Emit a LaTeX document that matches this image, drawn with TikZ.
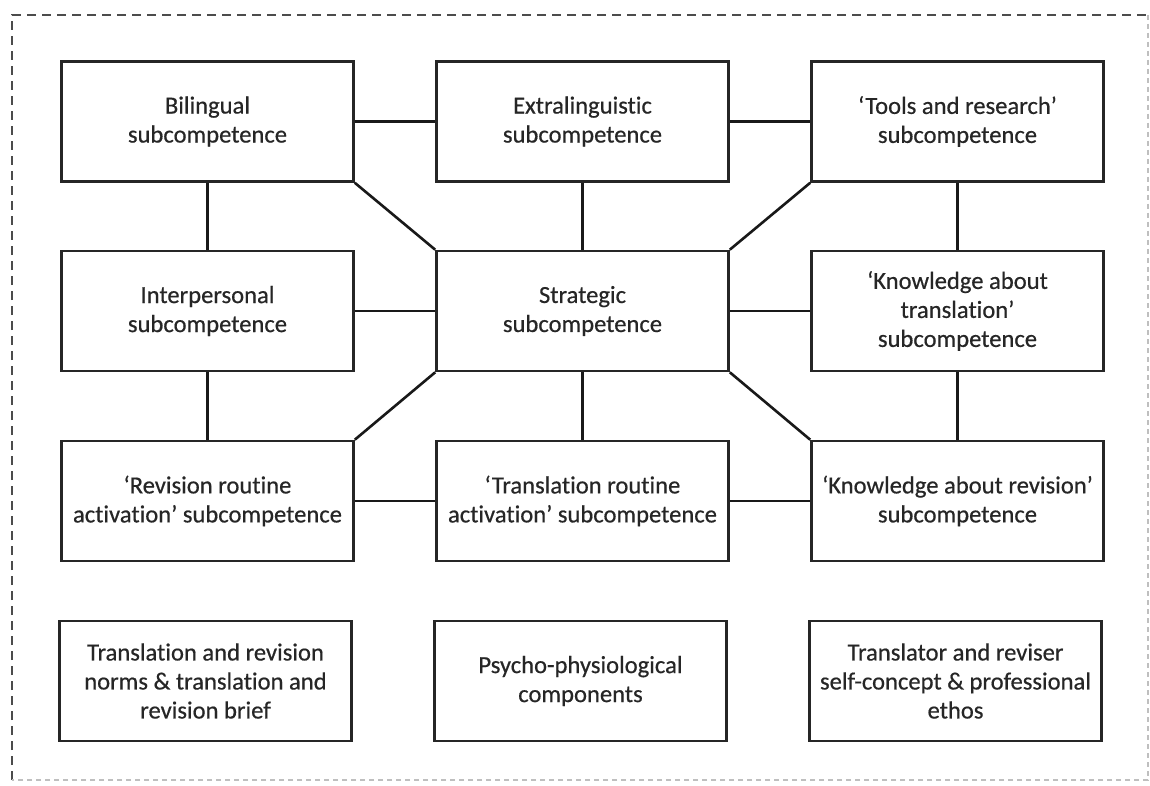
\documentclass[tikz,border=0pt]{standalone}
\usepackage{fontspec}
\setmainfont[Ligatures=CommonOff,FakeBold=0.5]{Carlito}
\begin{document}
\begin{tikzpicture}[x=1pt,y=-1pt,
  box/.style={draw=black!85,line width=2.6pt,minimum width=292pt,minimum height=120pt,align=center,inner sep=0pt,font=\fontsize{24.6}{29}\selectfont,text=black!85},
  link/.style={draw=black!90,line width=2.6pt}]
\useasboundingbox (0,0) rectangle (1150,786);
\fill[white] (0,0) rectangle (1150,786);
% border
\draw[black!70,line width=2.2pt,dash pattern=on 9pt off 6pt] (12,780) -- (12,15) -- (1148,15);
\draw[black!25,line width=1.6pt,dash pattern=on 5pt off 4pt] (1148,15) -- (1148,780) -- (12,780);
% row 1
\node[box] (bil) at (207.5,121.5) {Bilingual\\subcompetence};
\node[box] (ext) at (582.5,121.5) {Extralinguistic\\subcompetence};
\node[box] (tool) at (957.5,121.5) {‘Tools and research’\\subcompetence};
% row 2
\node[box] (int) at (207.5,311) {Interpersonal\\subcompetence};
\node[box] (str) at (582.5,311) {Strategic\\subcompetence};
\node[box] (kt) at (957.5,311) {‘Knowledge about\\translation’\\subcompetence};
% row 3
\node[box] (rr) at (207.5,501) {‘Revision routine\\activation’ subcompetence};
\node[box] (tr) at (582.5,501) {‘Translation routine\\activation’ subcompetence};
\node[box] (kr) at (957.5,501) {‘Knowledge about revision’\\subcompetence};
% row 4
\node[box] (norms) at (205.5,681) {Translation and revision\\norms \& translation and\\revision brief};
\node[box] (psy) at (580.5,681) {Psycho-physiological\\components};
\node[box] (self) at (955.5,681) {Translator and reviser\\self-concept \& professional\\ethos};
% connectors
\draw[link] (bil) -- (ext);
\draw[link] (ext) -- (tool);
\draw[link] (int) -- (str);
\draw[link] (str) -- (kt);
\draw[link] (rr) -- (tr);
\draw[link] (tr) -- (kr);
\draw[link] (bil) -- (int);
\draw[link] (int) -- (rr);
\draw[link] (ext) -- (str);
\draw[link] (str) -- (tr);
\draw[link] (tool) -- (kt);
\draw[link] (kt) -- (kr);
\draw[link] (bil.south east) -- (str.north west);
\draw[link] (tool.south west) -- (str.north east);
\draw[link] (str.south west) -- (rr.north east);
\draw[link] (str.south east) -- (kr.north west);
\end{tikzpicture}
\end{document}
